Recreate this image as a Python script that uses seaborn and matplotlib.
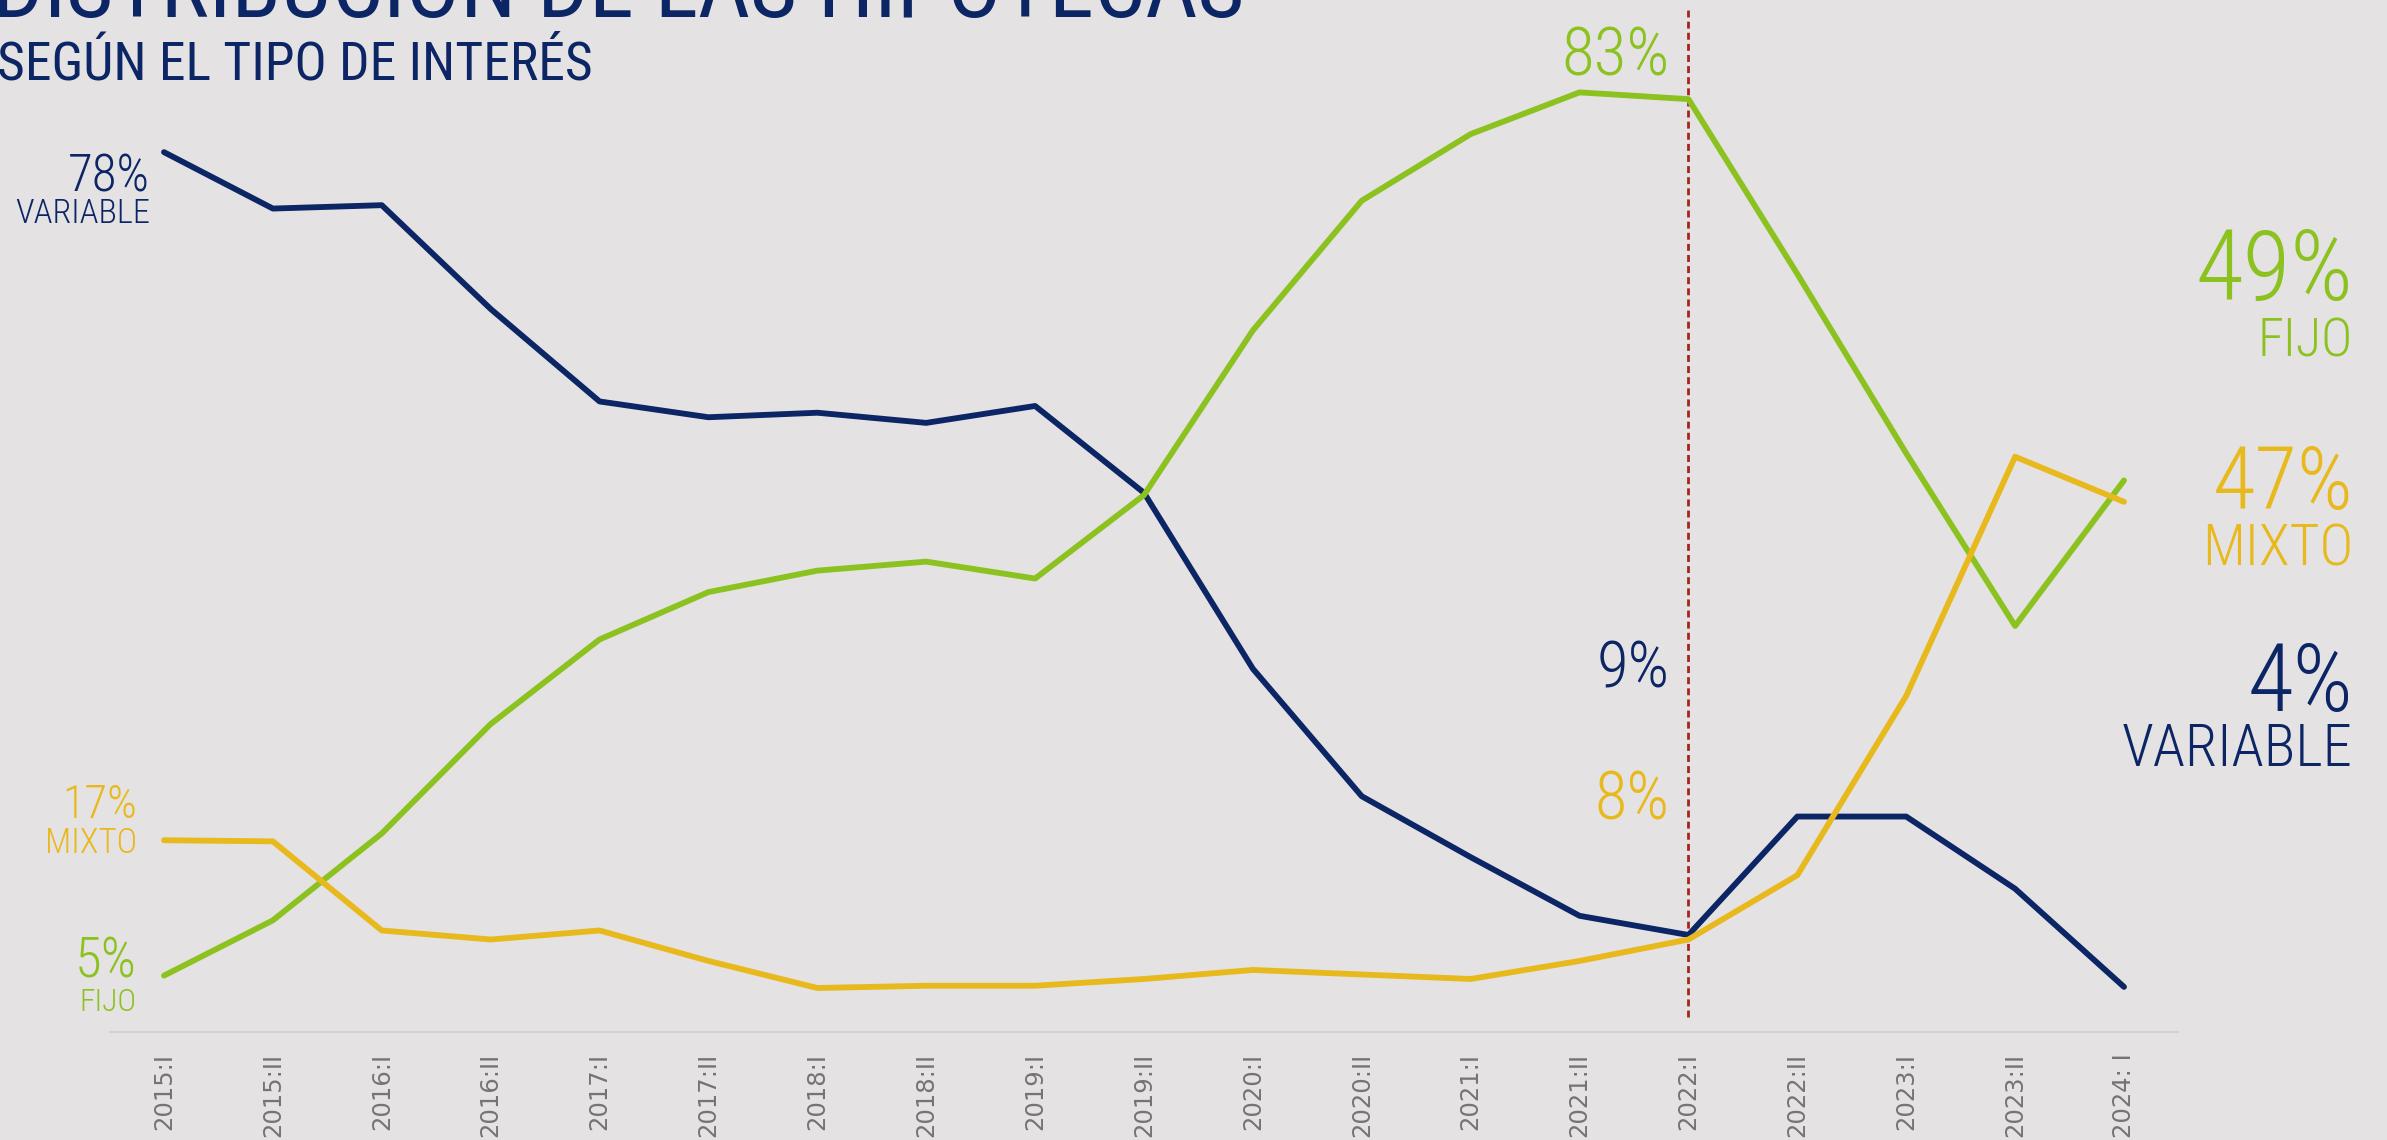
import numpy as np
import pandas as pd
import matplotlib
matplotlib.use("Agg")
import matplotlib.pyplot as plt
from matplotlib import font_manager
from matplotlib.font_manager import FontProperties
import seaborn as sns

# ---------------- data ----------------
periods = ["2015:I", "2015:II", "2016:I", "2016:II", "2017:I", "2017:II",
           "2018:I", "2018:II", "2019:I", "2019:II", "2020:I", "2020:II",
           "2021:I", "2021:II", "2022:I", "2022:II", "2023:I", "2023:II",
           "2024: I"]
variable = [78, 73, 73.3, 64.1, 55.9, 54.5, 54.9, 54.0, 55.5, 47.8, 32.2,
            20.9, 15.5, 10.3, 8.6, 19.1, 19.1, 12.7, 4]
fijo = [5, 9.9, 17.6, 27.3, 34.8, 39.0, 40.9, 41.7, 40.2, 47.6, 62.2,
        73.7, 79.6, 83.3, 82.7, 67.2, 51.3, 36.0, 48.9]
mixto = [17, 16.9, 9.0, 8.2, 9.0, 6.3, 3.9, 4.1, 4.1, 4.7, 5.5, 5.1,
         4.7, 6.3, 8.2, 13.9, 29.8, 51.0, 47]
series_names = ["Variable", "Fijo", "Mixto"]
title = "DISTRIBUCIÓN DE LAS HIPOTECAS"
subtitle = "SEGÚN EL TIPO DE INTERÉS"
marker_period = "2022:I"

# ---------------- style ----------------
W, H, DPI = 2387, 1140, 100
BG = "#e5e2e3"
NAVY = "#0b2565"
GREEN = "#8cc21f"
YELLOW = "#e8b91d"
RED = "#a3261d"

sns.set_theme(style="white")
plt.rcParams["font.family"] = ["Roboto", "DejaVu Sans"]

# look for a condensed face, fall back to Roboto
entries = font_manager.fontManager.ttflist


def is_cond(e):
    nm = e.name.lower()
    st = e.stretch
    if "condensed" in nm or "narrow" in nm:
        return True
    if isinstance(st, str):
        return "condensed" in st
    try:
        return int(st) < 500
    except Exception:
        return False


pref = ["roboto", "liberation", "open sans", "noto sans", "dejavu sans", "lato"]
cands = [e for e in entries if is_cond(e) and e.style == "normal"
         and "mono" not in e.name.lower() and "serif" not in e.name.lower().replace("sans", "")]


def wt(e):
    return e.weight if isinstance(e.weight, int) else 400


def rank(e):
    nm = e.name.lower()
    p = next((i for i, k in enumerate(pref) if nm.startswith(k)), 99)
    return (p, abs(wt(e) - 400))


cands.sort(key=rank)
if cands:
    FP_REG = FontProperties(fname=cands[0].fname)
    wlist = sorted(cands, key=lambda e: (rank(e)[0], abs(wt(e) - 300)))
    FP_LIGHT = FontProperties(fname=wlist[0].fname)
else:
    FP_REG = FontProperties(family="Roboto")
    FP_LIGHT = FontProperties(family="Roboto", weight="light")

fig = plt.figure(figsize=(W / DPI, H / DPI), dpi=DPI, facecolor=BG)
ax = fig.add_axes([110 / W, (H - 1032) / H, (2178 - 110) / W, 1032 / H])
ax.set_facecolor("none")

n = len(periods)
df = pd.DataFrame({
    "idx": list(range(n)) * 3,
    "valor": variable + fijo + mixto,
    "tipo": [series_names[0]] * n + [series_names[1]] * n + [series_names[2]] * n,
})

sns.lineplot(data=df, x="idx", y="valor", hue="tipo", sort=False,
             palette={"Variable": NAVY, "Fijo": GREEN, "Mixto": YELLOW},
             linewidth=4.2, legend=False, ax=ax, zorder=3)
for ln in ax.get_lines():
    ln.set_solid_capstyle("round")
    ln.set_solid_joinstyle("round")

px_per_idx = (2124 - 164) / (n - 1)
ax.set_xlim(-(164 - 110) / px_per_idx, (n - 1) + (2178 - 2124) / px_per_idx)
ax.set_ylim(0, 1032 / 11.28)

mi = periods.index(marker_period)
ax.axvline(mi, ymin=(1032 - 1017) / 1032, ymax=(1032 - 8) / 1032,
           color=RED, lw=2, dashes=(2.5, 1.5), zorder=1)

ax.set_xticks(range(n))
ax.set_xticklabels(periods, rotation=90, fontsize=17.5, color="#747474",
                   family="DejaVu Sans", va="top")
ax.tick_params(axis="x", length=0, pad=15)
ax.set_yticks([])
ax.set_xlabel("")
ax.set_ylabel("")
for s in ["top", "left", "right"]:
    ax.spines[s].set_visible(False)
ax.spines["bottom"].set_color("#d2d2d2")
ax.spines["bottom"].set_linewidth(1.6)

texts = []


def ftext(x, y, s, size, color, target_w, ha="right", fp=None):
    t = fig.text(x / W, 1 - y / H, s, color=color, ha=ha, va="baseline",
                 fontproperties=(fp or FP_LIGHT).copy())
    t.set_fontsize(size)
    texts.append((t, size, target_w))


# title / subtitle
ftext(-8, 17, title, 63, NAVY, 1253, ha="left", fp=FP_REG)
ftext(-3, 79, subtitle, 36, NAVY, 596, ha="left", fp=FP_REG)

# left labels
ftext(150, 192, f"{variable[0]:.0f}%", 39, NAVY, 82)
ftext(150, 223, "VARIABLE", 27, NAVY, 135)
ftext(137, 818, f"{mixto[0]:.0f}%", 38, YELLOW, 75)
ftext(137, 853, "MIXTO", 26, YELLOW, 92)
ftext(137, 977, f"{fijo[0]:.0f}%", 37, GREEN, 62)
ftext(137, 1011, "FIJO", 27, GREEN, 57)

# marker labels
ftext(1670, 75, "83%", 44, GREEN, 108)
ftext(1670, 687, "9%", 45, NAVY, 73)
ftext(1670, 820, "8%", 43, YELLOW, 75)

# right labels
ftext(2353, 300, "49%", 69, GREEN, 158)
ftext(2353, 356, "FIJO", 44, GREEN, 95)
ftext(2353, 509, "47%", 69, YELLOW, 141)
ftext(2353, 566, "MIXTO", 46, YELLOW, 151)
ftext(2353, 711, "4%", 69, NAVY, 106)
ftext(2353, 766, "VARIABLE", 44, NAVY, 231)

# fit each label to the width it has in the reference
fig.canvas.draw()
r = fig.canvas.get_renderer()
for t, size, tw in texts:
    w = t.get_window_extent(r).width
    if w > 0:
        t.set_fontsize(min(size * 1.15, size * tw / w))

fig.savefig("out.png", dpi=DPI, facecolor=BG)
